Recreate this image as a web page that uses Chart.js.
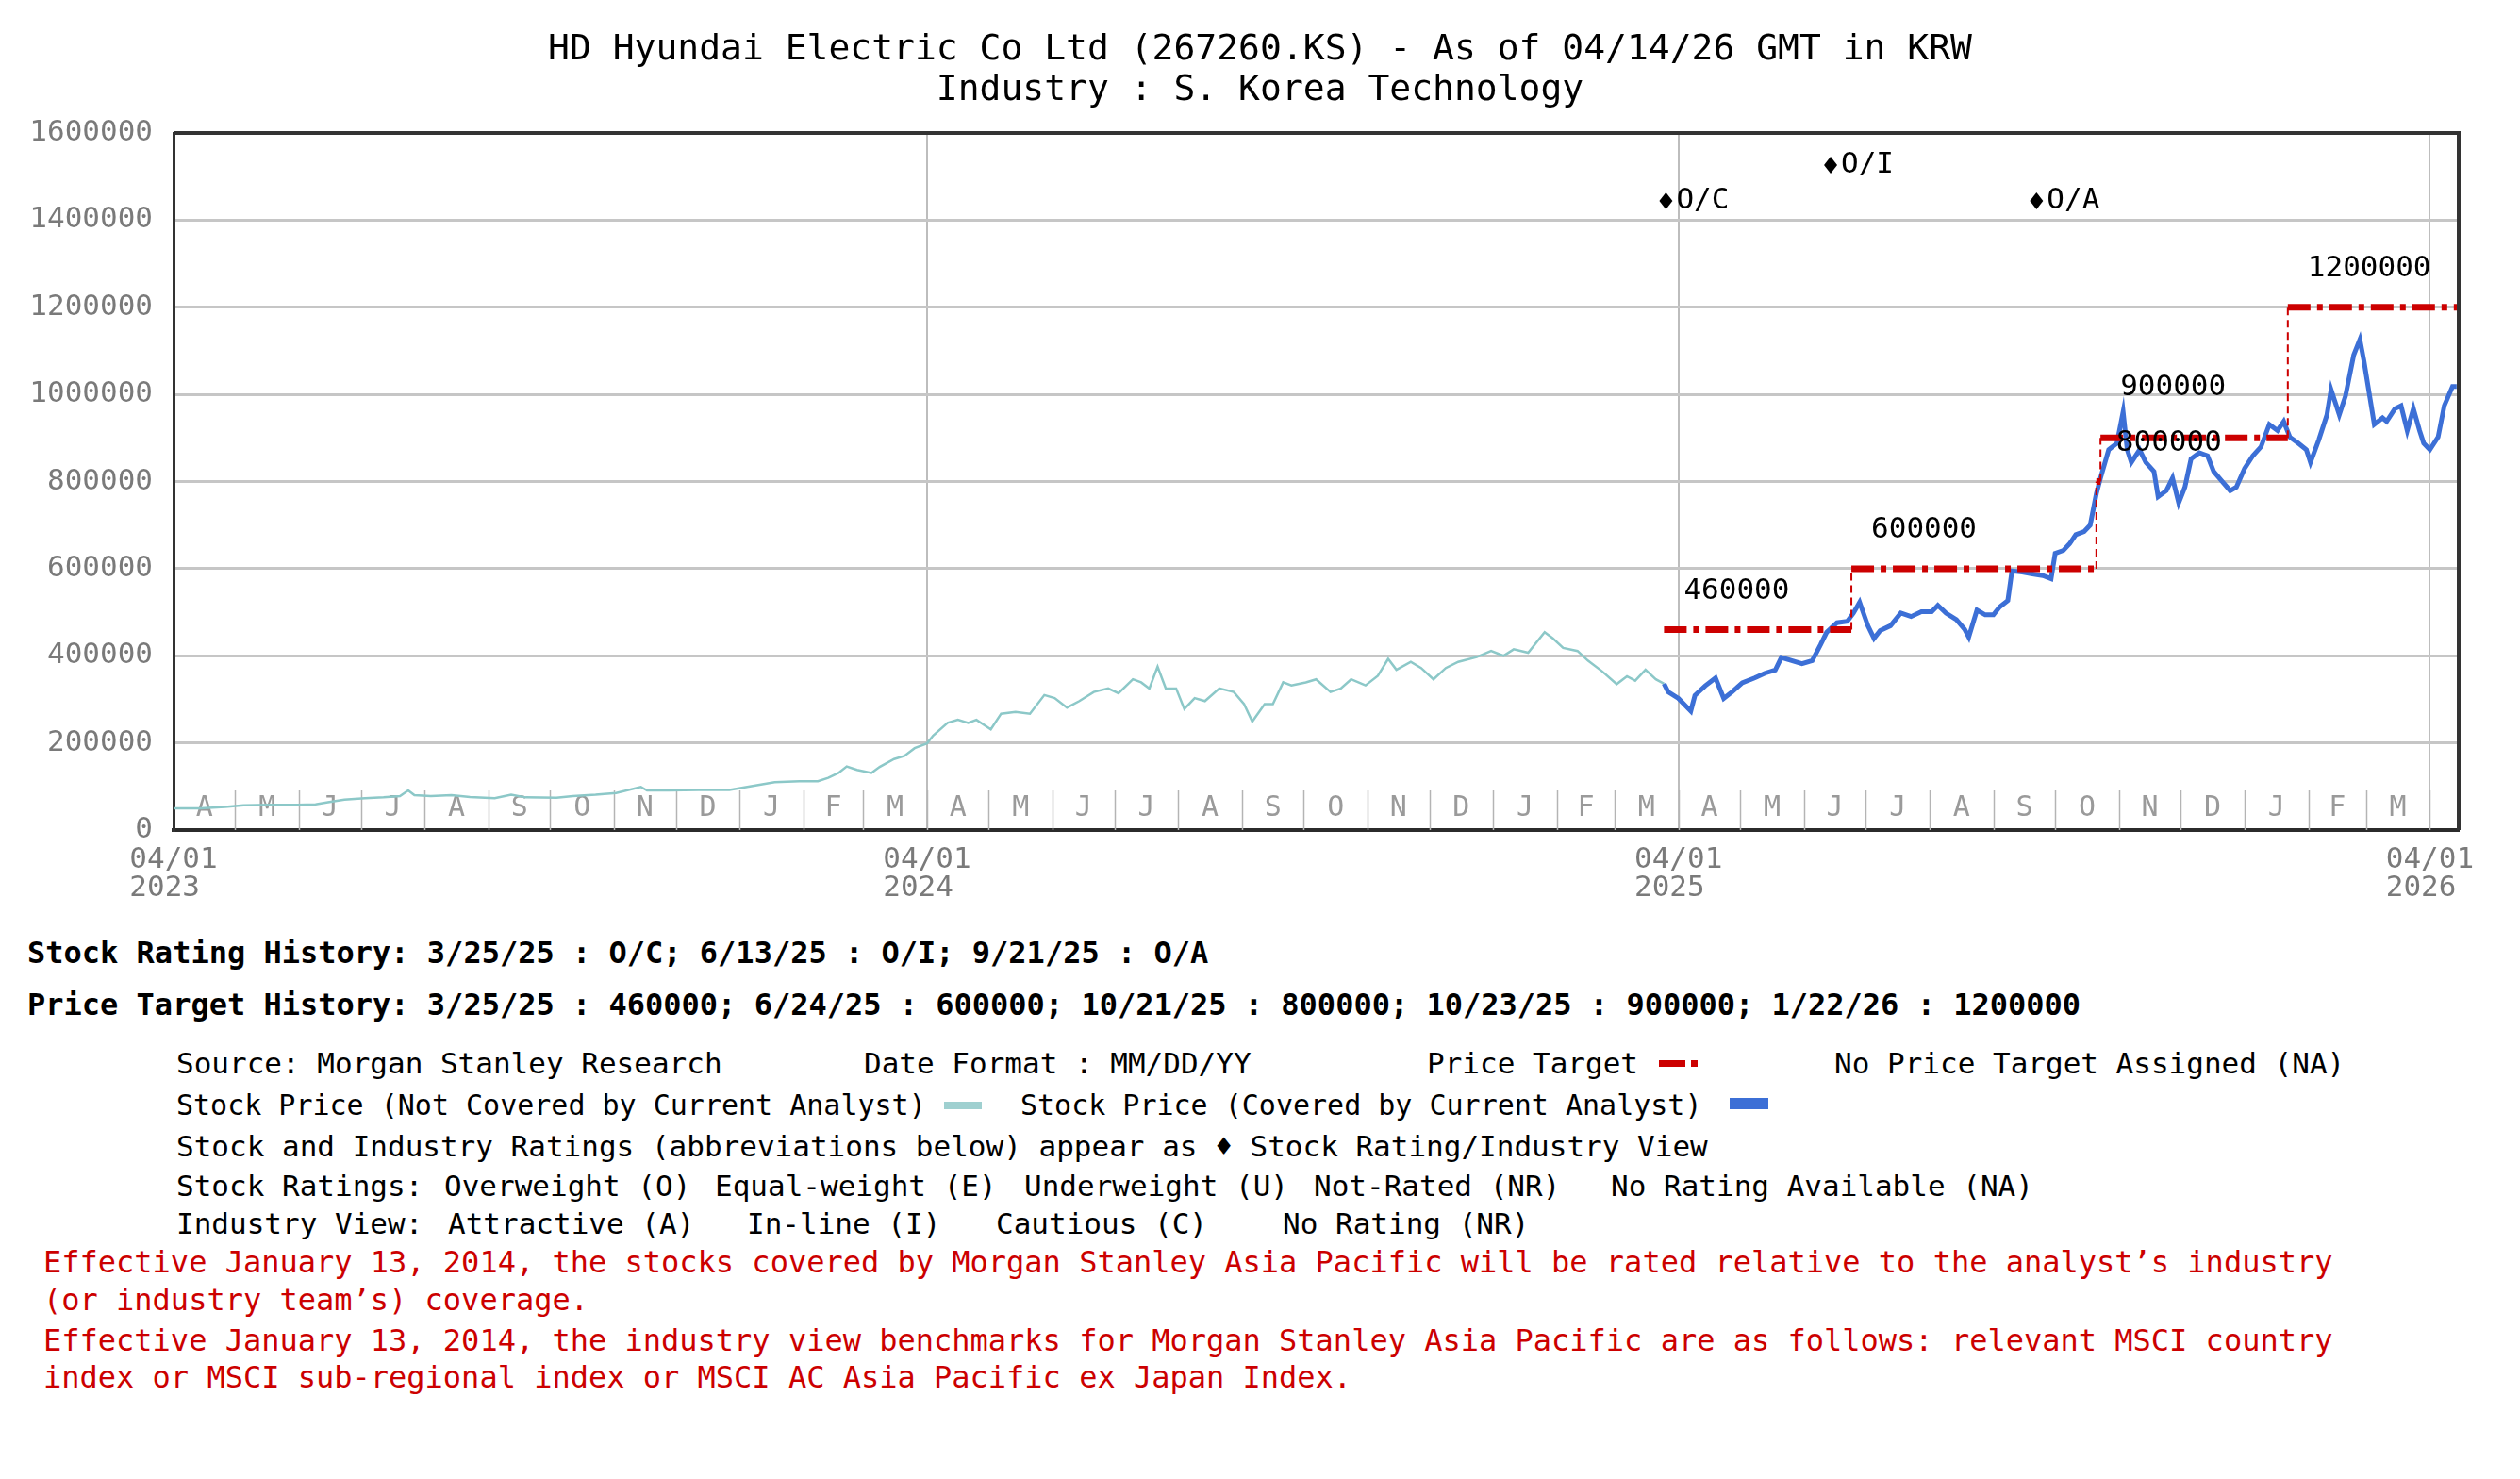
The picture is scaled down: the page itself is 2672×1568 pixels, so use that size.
<!DOCTYPE html>
<html>
<head>
<meta charset="utf-8">
<script src="https://cdn.jsdelivr.net/npm/chart.js@4.4.1/dist/chart.umd.min.js"></script>
<style>
  html, body { margin: 0; padding: 0; background: #fff; }
  body { width: 2672px; height: 1568px; position: relative; overflow: hidden; font-family: "DejaVu Sans Mono", monospace; }
  #wrap { position: absolute; left: 0; top: 0; width: 2672px; height: 980px; }
  .t { position: absolute; white-space: pre; font-size: 31px; line-height: 40px; color: #000; }
  .b { font-weight: bold; font-size: 32px; }
  .s { font-size: 30px; }
  .red { color: #cc0000; font-size: 32px; }
  .sw { position: absolute; }
</style>
</head>
<body>
<div id="wrap"><canvas id="histChart" width="2672" height="980"></canvas></div>
<div id="notes"></div>
<script>
const TITLE = ['HD Hyundai Electric Co Ltd (267260.KS) - As of 04/14/26 GMT in KRW', 'Industry : S. Korea Technology'];
const START = '2023-04-01';
const END = '2026-04-15';
const axisDates = ['2023-04-01', '2024-04-01', '2025-04-01', '2026-04-01'];
const yTicks = [0, 200000, 400000, 600000, 800000, 1000000, 1200000, 1400000, 1600000];
const monthLetters = ['J', 'F', 'M', 'A', 'M', 'J', 'J', 'A', 'S', 'O', 'N', 'D'];

// stock price, not covered by current analyst (thousand KRW)
const notCoveredDates = [
  '2023-04-01','2023-04-14','2023-04-26','2023-05-05','2023-05-18','2023-05-31','2023-06-09','2023-06-15','2023-06-23',
  '2023-07-03','2023-07-12','2023-07-20','2023-07-24','2023-07-27','2023-08-04','2023-08-14','2023-08-23','2023-09-04',
  '2023-09-12','2023-09-19','2023-10-04','2023-10-12','2023-10-23','2023-11-02','2023-11-14','2023-11-17','2023-11-28',
  '2023-12-12','2023-12-27','2024-01-06','2024-01-18','2024-01-30','2024-02-08','2024-02-13','2024-02-18','2024-02-22',
  '2024-02-27','2024-03-05','2024-03-09','2024-03-16','2024-03-21','2024-03-26','2024-04-01','2024-04-04','2024-04-11',
  '2024-04-16','2024-04-21','2024-04-25','2024-05-02','2024-05-07','2024-05-14','2024-05-21','2024-05-28','2024-06-02',
  '2024-06-08','2024-06-14','2024-06-21','2024-06-28','2024-07-03','2024-07-10','2024-07-14','2024-07-18','2024-07-22',
  '2024-07-26','2024-07-31','2024-08-04','2024-08-09','2024-08-14','2024-08-21','2024-08-28','2024-09-02','2024-09-06',
  '2024-09-12','2024-09-16','2024-09-21','2024-09-25','2024-10-02','2024-10-07','2024-10-14','2024-10-19','2024-10-24',
  '2024-10-31','2024-11-06','2024-11-11','2024-11-15','2024-11-22','2024-11-27','2024-12-03','2024-12-09','2024-12-15',
  '2024-12-24','2024-12-31','2025-01-06','2025-01-11','2025-01-18','2025-01-26','2025-01-30','2025-02-04','2025-02-11',
  '2025-02-16','2025-02-23','2025-03-02','2025-03-07','2025-03-11','2025-03-16','2025-03-21','2025-03-25'
];
const notCoveredPricesK = [
  50, 50, 53, 57, 58, 58, 59, 64, 70,
  73, 75, 78, 91, 80, 78, 80, 76, 73,
  81, 75, 74, 78, 81, 85, 99, 91, 91,
  92, 92, 100, 110, 112, 112, 120, 131, 146,
  138, 131, 145, 163, 170, 188, 199, 217, 246,
  253, 246, 253, 231, 267, 271, 267, 310, 303,
  281, 296, 317, 325, 314, 346, 339, 325, 375,
  325, 325, 278, 303, 296, 325, 317, 289, 249,
  289, 289, 339, 332, 339, 346, 317, 325, 346,
  332, 354, 393, 368, 386, 372, 346, 372, 386,
  397, 411, 400, 415, 407, 454, 440, 418, 411,
  389, 364, 335, 353, 343, 368, 346, 336
];

// stock price, covered by current analyst (thousand KRW)
const coveredDates = [
  '2025-03-25','2025-03-27','2025-04-01','2025-04-07','2025-04-09','2025-04-14','2025-04-19','2025-04-23','2025-04-27',
  '2025-05-02','2025-05-08','2025-05-13','2025-05-18','2025-05-21','2025-05-26','2025-05-31','2025-06-05','2025-06-09',
  '2025-06-12','2025-06-17','2025-06-22','2025-06-25','2025-06-28','2025-07-02','2025-07-05','2025-07-08','2025-07-13',
  '2025-07-18','2025-07-23','2025-07-28','2025-08-02','2025-08-05','2025-08-09','2025-08-14','2025-08-18','2025-08-20',
  '2025-08-24','2025-08-28','2025-09-01','2025-09-04','2025-09-08','2025-09-10','2025-09-15','2025-09-20','2025-09-25',
  '2025-09-29','2025-10-01','2025-10-05','2025-10-08','2025-10-11','2025-10-15','2025-10-18','2025-10-21','2025-10-23',
  '2025-10-27','2025-10-31','2025-11-03','2025-11-05','2025-11-07','2025-11-11','2025-11-14','2025-11-18','2025-11-20',
  '2025-11-24','2025-11-27','2025-11-30','2025-12-03','2025-12-06','2025-12-10','2025-12-14','2025-12-17','2025-12-21',
  '2025-12-25','2025-12-28','2026-01-01','2026-01-05','2026-01-09','2026-01-13','2026-01-17','2026-01-20','2026-01-23',
  '2026-01-27','2026-01-31','2026-02-02','2026-02-06','2026-02-10','2026-02-12','2026-02-16','2026-02-19','2026-02-23',
  '2026-02-26','2026-02-28','2026-03-03','2026-03-05','2026-03-09','2026-03-11','2026-03-15','2026-03-18','2026-03-21',
  '2026-03-24','2026-03-27','2026-03-29','2026-04-01','2026-04-05','2026-04-08','2026-04-12','2026-04-14'
];
const coveredPricesK = [
  336, 317, 302, 273, 309, 331, 349, 302, 317,
  338, 349, 360, 367, 396, 389, 382, 389, 425,
  454, 476, 479, 498, 523, 469, 440, 458, 469,
  498, 490, 501, 501, 516, 498, 483, 461, 443,
  505, 494, 494, 512, 527, 595, 592, 588, 584,
  577, 635, 642, 657, 678, 685, 700, 772, 808,
  873, 888, 960, 873, 844, 873, 844, 823, 765,
  779, 808, 751, 787, 852, 866, 859, 823, 801,
  779, 787, 830, 859, 880, 931, 917, 938, 902,
  888, 873, 844, 895, 953, 1011, 953, 996, 1090,
  1126, 1076, 989, 931, 946, 938, 967, 974, 917,
  967, 917, 888, 873, 902, 974, 1018, 1018
];

const targetDates = ['2025-03-25', '2025-06-24', '2025-10-21', '2025-10-23', '2026-01-22'];
const targetValues = [460000, 600000, 800000, 900000, 1200000];

const ratingDates = ['2025-03-25', '2025-06-13', '2025-09-21'];
const ratingCodes = ['O/C', 'O/I', 'O/A'];

const FONT = '"DejaVu Sans Mono", monospace';
const ORIGIN = Date.UTC(2023, 3, 1);
const DAY = 86400000;

function dayNum(s) {
  const p = s.split('-');
  return (Date.UTC(+p[0], +p[1] - 1, +p[2]) - ORIGIN) / DAY;
}
function pad2(n) { return (n < 10 ? '0' : '') + n; }
function shortDate(s) {
  const p = s.split('-');
  return (+p[1]) + '/' + (+p[2]) + '/' + p[0].slice(2);
}

const notCoveredPts = notCoveredDates.map((d, i) => ({ x: dayNum(d), y: notCoveredPricesK[i] * 1000 }));
const coveredPts = coveredDates.map((d, i) => ({ x: dayNum(d), y: coveredPricesK[i] * 1000 }));

// price target as explicit steps
const targetPts = [];
targetDates.forEach((d, i) => {
  const x = dayNum(d);
  if (i > 0) targetPts.push({ x: x, y: targetValues[i - 1] });
  targetPts.push({ x: x, y: targetValues[i] });
});
targetPts.push({ x: dayNum(END), y: targetValues[targetValues.length - 1] });

const isVert = c => c.p0.parsed.x === c.p1.parsed.x;

const decorPlugin = {
  id: 'decor',
  beforeDatasetsDraw(chart) {
    const ctx = chart.ctx, xs = chart.scales.x, area = chart.chartArea;
    ctx.save();
    ctx.font = '30px ' + FONT;
    ctx.textAlign = 'center';
    ctx.textBaseline = 'middle';
    for (let k = 0; k <= 36; k++) {
      const yr = 2023 + Math.floor((3 + k) / 12), m = (3 + k) % 12;
      const d0 = (Date.UTC(yr, m, 1) - ORIGIN) / DAY;
      const d1 = (Date.UTC(yr, m + 1, 1) - ORIGIN) / DAY;
      if (d0 > 0) {
        const px = Math.round(xs.getPixelForValue(d0)) + 0.5;
        ctx.strokeStyle = '#b4b4b4';
        ctx.lineWidth = 1.5;
        ctx.beginPath();
        ctx.moveTo(px, area.bottom - 42);
        ctx.lineTo(px, area.bottom);
        ctx.stroke();
      }
      if (d1 <= xs.max) {
        ctx.fillStyle = '#9a9a9a';
        ctx.fillText(monthLetters[m], xs.getPixelForValue((d0 + d1) / 2), area.bottom - 23);
      }
    }
    ctx.restore();
  },
  afterDatasetsDraw(chart) {
    const ctx = chart.ctx, xs = chart.scales.x, ys = chart.scales.y, area = chart.chartArea;
    ctx.save();
    // frame top and right
    ctx.strokeStyle = '#333';
    ctx.lineWidth = 4;
    ctx.beginPath();
    ctx.moveTo(area.left, area.top);
    ctx.lineTo(area.right, area.top);
    ctx.lineTo(area.right, area.bottom);
    ctx.stroke();

    // price target labels
    ctx.font = '31px ' + FONT;
    ctx.fillStyle = '#000';
    ctx.textAlign = 'left';
    ctx.textBaseline = 'middle';
    let prevRight = -Infinity;
    targetDates.forEach((d, i) => {
      const txt = String(targetValues[i]);
      const x = xs.getPixelForValue(dayNum(d)) + 21;
      let y = ys.getPixelForValue(targetValues[i]) - 41;
      if (x < prevRight) y -= 12;
      ctx.fillText(txt, x, y);
      prevRight = x + ctx.measureText(txt).width;
    });

    // rating markers
    const rows = [72, 34];
    ratingDates.forEach((d, i) => {
      const x = xs.getPixelForValue(dayNum(d)) + 2;
      const y = area.top + rows[i % 2];
      ctx.beginPath();
      ctx.moveTo(x, y - 9);
      ctx.lineTo(x + 7, y);
      ctx.lineTo(x, y + 9);
      ctx.lineTo(x - 7, y);
      ctx.closePath();
      ctx.fill();
      ctx.fillText(ratingCodes[i], x + 11, y);
    });
    ctx.restore();
  }
};

const histChart = new Chart(document.getElementById('histChart'), {
  type: 'line',
  data: {
    datasets: [
      {
        label: 'Price Target',
        data: targetPts,
        borderColor: '#cc0000',
        borderWidth: 7,
        borderDash: [24, 7, 6, 7],
        pointRadius: 0,
        order: 0,
        segment: {
          borderWidth: c => isVert(c) ? 2 : 7,
          borderDash: c => isVert(c) ? [8, 5] : [24, 7, 6, 7]
        }
      },
      {
        label: 'Stock Price (Covered by Current Analyst)',
        data: coveredPts,
        borderColor: '#3c6fd6',
        borderWidth: 5,
        pointRadius: 0,
        order: 1
      },
      {
        label: 'Stock Price (Not Covered by Current Analyst)',
        data: notCoveredPts,
        borderColor: '#8cc8c8',
        borderWidth: 2.5,
        pointRadius: 0,
        order: 2
      }
    ]
  },
  options: {
    responsive: false,
    devicePixelRatio: 1,
    animation: false,
    layout: { padding: 0 },
    plugins: {
      legend: { display: false },
      tooltip: { enabled: false },
      title: {
        display: true,
        text: TITLE,
        color: '#000',
        font: { family: FONT, size: 38, weight: 'normal', lineHeight: 43 / 38 },
        padding: { top: 32, bottom: 23 }
      }
    },
    scales: {
      x: {
        type: 'linear',
        min: dayNum(START),
        max: dayNum(END),
        afterBuildTicks: s => { s.ticks = axisDates.map(d => ({ value: dayNum(d) })); },
        afterFit: s => { s.height = 100; },
        grid: { color: '#bdbdbd', lineWidth: 2, drawTicks: false },
        border: { color: '#2b2b2b', width: 4 },
        ticks: {
          autoSkip: false,
          maxRotation: 0,
          padding: 17,
          color: '#7a7a7a',
          font: { family: FONT, size: 31, lineHeight: 30 / 31 },
          callback: v => {
            const dt = new Date(ORIGIN + v * DAY);
            return [pad2(dt.getUTCMonth() + 1) + '/' + pad2(dt.getUTCDate()), dt.getUTCFullYear() + ' '];
          }
        }
      },
      y: {
        min: 0,
        max: 1600000,
        afterBuildTicks: s => { s.ticks = yTicks.map(v => ({ value: v })); },
        afterFit: s => { s.width = 184; },
        grid: { color: '#c6c6c6', lineWidth: 3, drawTicks: false },
        border: { color: '#333', width: 3 },
        ticks: {
          padding: 22,
          color: '#7a7a7a',
          font: { family: FONT, size: 31 },
          callback: v => String(v)
        }
      },
      // empty right margin so the title stays centred on the page
      yPad: {
        position: 'right',
        afterFit: s => { s.width = 65; },
        grid: { display: false, drawTicks: false },
        border: { display: false },
        ticks: { display: false }
      }
    }
  },
  plugins: [decorPlugin]
});

// notes under the chart
const notes = document.getElementById('notes');
function put(text, x, yc, cls) {
  const el = document.createElement('div');
  el.className = 't' + (cls ? ' ' + cls : '');
  el.textContent = text;
  el.style.left = x + 'px';
  el.style.top = (yc - 20) + 'px';
  notes.appendChild(el);
}
function swatch(x, yc, w, h, color) {
  const el = document.createElement('div');
  el.className = 'sw';
  el.style.left = x + 'px';
  el.style.top = (yc - h / 2) + 'px';
  el.style.width = w + 'px';
  el.style.height = h + 'px';
  el.style.background = color;
  notes.appendChild(el);
}

put('Stock Rating History: ' + ratingDates.map((d, i) => shortDate(d) + ' : ' + ratingCodes[i]).join('; '), 29, 1010, 'b');
put('Price Target History: ' + targetDates.map((d, i) => shortDate(d) + ' : ' + targetValues[i]).join('; '), 29, 1065, 'b');

put('Source: Morgan Stanley Research', 187, 1127);
put('Date Format : MM/DD/YY', 916, 1127);
put('Price Target', 1513, 1127);
swatch(1759, 1127, 28, 7, '#cc0000');
swatch(1793, 1127, 7, 7, '#cc0000');
put('No Price Target Assigned (NA)', 1945, 1127);

put('Stock Price (Not Covered by Current Analyst)', 187, 1172, 's');
swatch(1001, 1172, 40, 8, '#9fd0d0');
put('Stock Price (Covered by Current Analyst)', 1082, 1172, 's');
swatch(1834, 1170, 41, 12, '#3c6fd6');

put('Stock and Industry Ratings (abbreviations below) appear as \u2666 Stock Rating/Industry View', 187, 1215);

put('Stock Ratings:', 187, 1257);
put('Overweight (O)', 471, 1257);
put('Equal-weight (E)', 758, 1257);
put('Underweight (U)', 1086, 1257);
put('Not-Rated (NR)', 1393, 1257);
put('No Rating Available (NA)', 1708, 1257);

put('Industry View:', 187, 1297);
put('Attractive (A)', 475, 1297);
put('In-line (I)', 792, 1297);
put('Cautious (C)', 1056, 1297);
put('No Rating (NR)', 1360, 1297);

put('Effective January 13, 2014, the stocks covered by Morgan Stanley Asia Pacific will be rated relative to the analyst\u2019s industry', 46, 1338, 'red');
put('(or industry team\u2019s) coverage.', 46, 1378, 'red');
put('Effective January 13, 2014, the industry view benchmarks for Morgan Stanley Asia Pacific are as follows: relevant MSCI country', 46, 1421, 'red');
put('index or MSCI sub-regional index or MSCI AC Asia Pacific ex Japan Index.', 46, 1460, 'red');
</script>
</body>
</html>
